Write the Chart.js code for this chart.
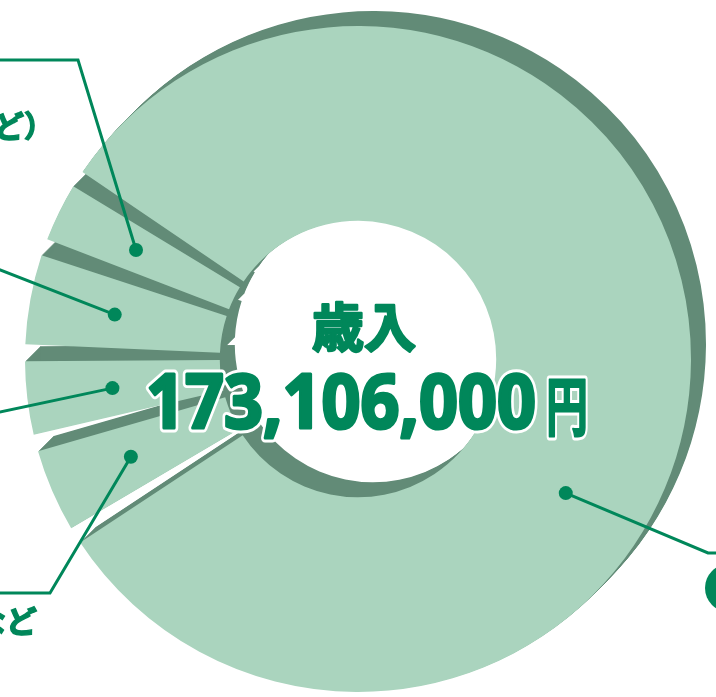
<!DOCTYPE html>
<html><head><meta charset="utf-8">
<script src="https://cdn.jsdelivr.net/npm/chart.js@4/dist/chart.umd.min.js"></script>
<style>
html,body{margin:0;padding:0;background:#ffffff;overflow:hidden;}
#wrap{position:absolute;left:0;top:0;width:716px;height:697px;}
</style>
</head><body>
<div id="wrap"><canvas id="c" width="716" height="697"></canvas></div>
<script>
// Revenue breakdown (thousand yen), clockwise from the top-left gap
const categories = ['会費', '繰越金など', '補助金', '負担金', '事業収入（手数料など）'];
const values = [142000, 8356, 7550, 8900, 6300];
const centerTitle = '歳入';
const currencyUnit = '円';

const FACE = '#aad4be';
const SHADOW = '#628b77';
const GREEN = '#00875a';
const GAP_PX = 12;
const DEPTH = 15;

const total = values.reduce((a, b) => a + b, 0);
const totalText = (total * 1000).toLocaleString('en-US');

// a copy of a library arc element with a narrowed angle range and a new fill
function variant(el, color) {
  const f = Object.create(el);
  const rMid = (el.innerRadius + el.outerRadius) / 2;
  const d = (GAP_PX / 2) / rMid;
  f.startAngle = el.startAngle + d;
  f.endAngle = el.endAngle - d;
  f.circumference = el.circumference - 2 * d;
  const o = Object.create(el.options);
  Object.defineProperty(o, 'backgroundColor', {value: color});
  Object.defineProperty(o, 'borderWidth', {value: 0});
  f.options = o;
  return f;
}

const extrude = {
  id: 'extrude',
  beforeDatasetsDraw(chart) {
    const ctx = chart.ctx;
    const arcs = chart.getDatasetMeta(0).data;
    const shadows = arcs.map(el => variant(el, SHADOW));
    for (let k = 1; k <= DEPTH; k++) {
      shadows.forEach(f => {
        ctx.save();
        ctx.translate(k, -k);
        f.draw(ctx);
        ctx.restore();
      });
    }
    arcs.forEach(el => variant(el, el.options.backgroundColor).draw(ctx));
    this.drawAnnotations(chart);
    return false;
  },
  drawAnnotations(chart) {
    const ctx = chart.ctx;
    const arcs = chart.getDatasetMeta(0).data;
    ctx.save();
    ctx.strokeStyle = GREEN;
    ctx.fillStyle = GREEN;
    ctx.lineWidth = 3;
    ctx.lineJoin = 'miter';
    arcs.forEach((el, i) => {
      const p = el.getProps(['x', 'y', 'startAngle', 'endAngle', 'innerRadius', 'outerRadius']);
      const a = p.startAngle + (p.endAngle - p.startAngle) * dotAlong[i];
      const r = p.innerRadius + 0.56 * (p.outerRadius - p.innerRadius);
      const dx = p.x + Math.cos(a) * r, dy = p.y + Math.sin(a) * r;
      ctx.beginPath();
      ctx.moveTo(dx, dy);
      routes[i].forEach(pt => ctx.lineTo(pt[0], pt[1]));
      ctx.stroke();
      ctx.beginPath();
      ctx.arc(dx, dy, 7, 0, Math.PI * 2);
      ctx.fill();
    });
    ctx.beginPath();
    ctx.arc(729, 588, 24, 0, Math.PI * 2);
    ctx.fill();

    // label tails visible at the left edge
    ctx.textAlign = 'right';
    ctx.textBaseline = 'middle';
    ctx.lineWidth = 1.4;
    ctx.font = 'bold 30px "Noto Sans CJK JP"';
    ctx.fillText(categories[4], 54, 126);
    ctx.strokeText(categories[4], 54, 126);
    ctx.font = 'bold 31px "Noto Sans CJK JP"';
    ctx.fillText(categories[1], 37, 621);
    ctx.strokeText(categories[1], 37, 621);

    // centre text
    const cx = arcs[0].x;
    ctx.textAlign = 'center';
    ctx.font = 'bold 52px "Noto Sans CJK JP"';
    ctx.lineJoin = 'round';
    ctx.lineWidth = 2.5;
    ctx.fillText(centerTitle, cx + 6, 327);
    ctx.strokeText(centerTitle, cx + 6, 327);

    ctx.textAlign = 'left';
    ctx.textBaseline = 'alphabetic';
    ctx.font = 'bold 76px "Noto Sans"';
    const w = ctx.measureText(totalText).width;
    const sx = 390 / w;
    ctx.save();
    ctx.translate(146, 428);
    ctx.scale(sx, 1);
    ctx.strokeStyle = '#ffffff';
    ctx.lineWidth = 9;
    ctx.strokeText(totalText, 0, 0);
    ctx.fillText(totalText, 0, 0);
    ctx.strokeStyle = GREEN;
    ctx.lineWidth = 3.2;
    ctx.strokeText(totalText, 0, 0);
    ctx.restore();

    ctx.font = 'bold 64px "Noto Sans CJK JP"';
    const wy = ctx.measureText(currencyUnit).width;
    ctx.save();
    ctx.translate(546, 430);
    ctx.scale(42 / wy, 1);
    ctx.strokeStyle = '#ffffff';
    ctx.lineWidth = 8;
    ctx.strokeText(currencyUnit, 0, 0);
    ctx.fillText(currencyUnit, 0, 0);
    ctx.strokeStyle = GREEN;
    ctx.lineWidth = 2;
    ctx.strokeText(currencyUnit, 0, 0);
    ctx.restore();
    ctx.restore();
  }
};

// leader-line routes (label side) and dot placement along each arc
const dotAlong = [0.61, 0.5, 0.5, 0.5, 0.5];
const routes = [
  [[708, 553], [722, 553]],
  [[50, 593], [-5, 593]],
  [[-5, 413]],
  [[-5, 268]],
  [[78, 60], [-5, 60]]
];

new Chart(document.getElementById('c'), {
  type: 'doughnut',
  data: {
    labels: categories,
    datasets: [{
      data: values,
      backgroundColor: values.map(() => FACE),
      borderWidth: 0
    }]
  },
  options: {
    responsive: false,
    animation: false,
    events: [],
    rotation: 302.7,
    radius: 333,
    cutout: '41.5%',
    layout: {padding: {top: 21, bottom: 0, left: 0, right: 0}},
    plugins: {legend: {display: false}, tooltip: {enabled: false}}
  },
  plugins: [extrude]
});
</script>
</body></html>
